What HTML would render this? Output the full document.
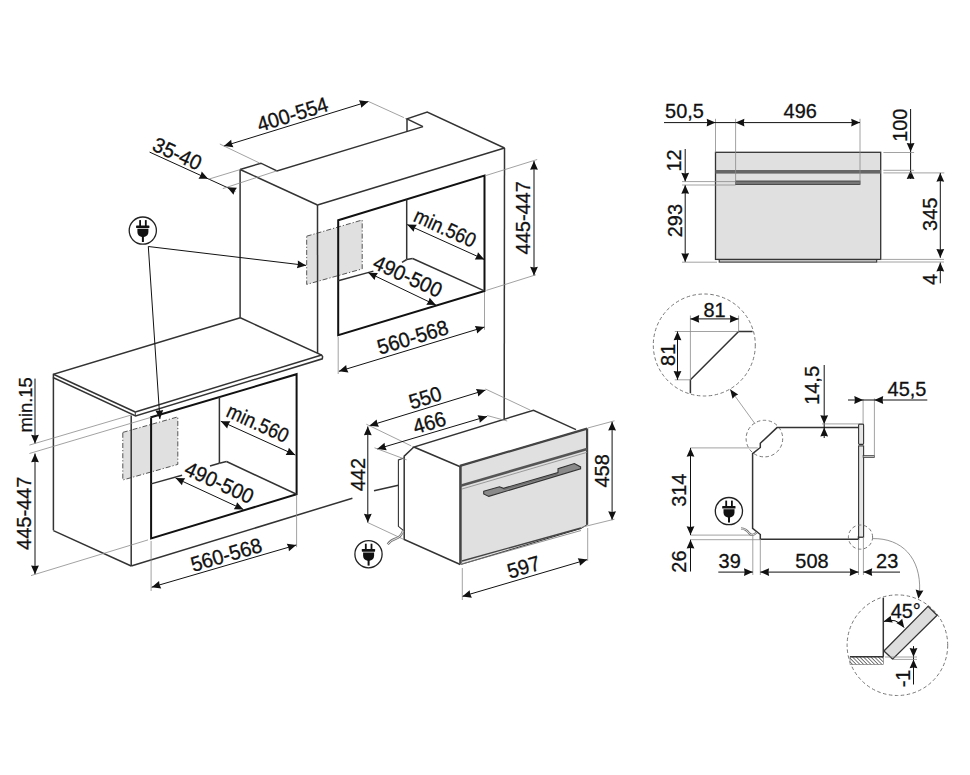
<!DOCTYPE html>
<html><head><meta charset="utf-8"><style>
html,body{margin:0;padding:0;background:#fff;}
svg{display:block;font-family:"Liberation Sans",sans-serif;}
</style></head><body>
<svg width="970" height="775" viewBox="0 0 970 775">
<defs><pattern id="hatch" width="2.6" height="2.6" patternUnits="userSpaceOnUse" patternTransform="rotate(-45)"><rect width="2.6" height="2.6" fill="#fff"/><line x1="0" y1="0" x2="0" y2="2.6" stroke="#333" stroke-width="1.3"/></pattern></defs>
<rect width="970" height="775" fill="#fff"/>
<polygon points="306.7,236.2 362.2,220.0 362.2,268.9 306.7,284.4" stroke="#555" stroke-width="1.0" fill="#e0e0e0" stroke-linejoin="miter" stroke-dasharray="5,2,1.2,2"/>
<line x1="240.1" y1="169.5" x2="240.1" y2="317.8" stroke="#333" stroke-width="1.5" />
<line x1="240.1" y1="169.5" x2="317.5" y2="205.0" stroke="#333" stroke-width="1.5" />
<line x1="317.5" y1="205.0" x2="317.6" y2="353.0" stroke="#333" stroke-width="1.5" />
<line x1="317.5" y1="205.0" x2="504.5" y2="148.0" stroke="#333" stroke-width="1.5" />
<line x1="504.5" y1="148.0" x2="504.2" y2="419.5" stroke="#333" stroke-width="1.5" />
<polyline points="240.1,169.5 260.9,163.2 277.0,171.0 423.0,126.6" stroke="#333" stroke-width="1.5" fill="none" stroke-linejoin="miter" />
<line x1="407.0" y1="118.9" x2="407.0" y2="132.0" stroke="#333" stroke-width="1.5" />
<polyline points="423.0,126.6 407.0,118.9 427.2,112.1 504.5,148.0" stroke="#333" stroke-width="1.5" fill="none" stroke-linejoin="miter" />
<polygon points="338.2,220.2 484.5,175.6 484.5,290.9 338.2,335.1" stroke="#111" stroke-width="2.0" fill="none" stroke-linejoin="miter" />
<line x1="406.7" y1="199.5" x2="406.7" y2="259.3" stroke="#333" stroke-width="1.5" />
<line x1="338.2" y1="280.7" x2="373.4" y2="271.1" stroke="#333" stroke-width="1.5" />
<line x1="402.0" y1="262.4" x2="406.7" y2="259.5" stroke="#333" stroke-width="1.5" />
<line x1="406.7" y1="259.5" x2="412.6" y2="258.5" stroke="#333" stroke-width="1.5" />
<line x1="412.6" y1="258.5" x2="484.4" y2="290.9" stroke="#333" stroke-width="1.5" />
<polyline points="240.3,317.8 53.4,374.2 53.4,377.8 135.6,415.9 322.3,358.8 322.6,356.6 321.6,355.0 240.3,317.8" stroke="#333" stroke-width="1.5" fill="none" stroke-linejoin="miter" />
<line x1="53.4" y1="374.2" x2="135.3" y2="412.0" stroke="#333" stroke-width="1.5" />
<line x1="135.3" y1="412.0" x2="321.6" y2="355.0" stroke="#333" stroke-width="1.5" />
<line x1="135.3" y1="412.0" x2="135.3" y2="415.9" stroke="#333" stroke-width="1.0" />
<polygon points="122.8,432.4 177.8,416.9 177.8,464.4 122.8,480.0" stroke="#555" stroke-width="1.0" fill="#e0e0e0" stroke-linejoin="miter" stroke-dasharray="5,2,1.2,2"/>
<line x1="53.4" y1="377.6" x2="53.4" y2="530.3" stroke="#333" stroke-width="1.5" />
<line x1="53.4" y1="530.6" x2="131.2" y2="566.0" stroke="#333" stroke-width="1.5" />
<line x1="131.2" y1="415.5" x2="131.2" y2="566.0" stroke="#333" stroke-width="1.5" />
<line x1="131.2" y1="566.0" x2="352.4" y2="498.2" stroke="#333" stroke-width="1.5" />
<line x1="374.0" y1="490.7" x2="398.4" y2="485.2" stroke="#333" stroke-width="1.5" />
<polygon points="151.1,417.3 296.6,374.2 296.6,494.3 151.1,538.5" stroke="#111" stroke-width="2.0" fill="none" stroke-linejoin="miter" />
<line x1="219.4" y1="396.8" x2="219.4" y2="463.2" stroke="#333" stroke-width="1.5" />
<line x1="151.1" y1="483.9" x2="182.1" y2="475.3" stroke="#333" stroke-width="1.5" />
<line x1="210.0" y1="466.0" x2="219.4" y2="463.2" stroke="#333" stroke-width="1.5" />
<line x1="219.4" y1="463.2" x2="226.5" y2="461.5" stroke="#333" stroke-width="1.5" />
<line x1="226.5" y1="461.5" x2="296.6" y2="494.3" stroke="#333" stroke-width="1.5" />
<line x1="223.9" y1="146.1" x2="368.5" y2="101.5" stroke="#111" stroke-width="1.0" />
<polygon points="223.90,146.10 231.16,139.78 231.74,143.68 233.46,147.23" fill="#111"/>
<polygon points="368.50,101.50 361.24,107.82 360.66,103.92 358.94,100.37" fill="#111"/>
<line x1="219.8" y1="144.0" x2="259.5" y2="163.0" stroke="#8a8a8a" stroke-width="0.8" />
<line x1="368.5" y1="101.5" x2="403.9" y2="117.6" stroke="#8a8a8a" stroke-width="0.8" />
<text transform="translate(292.5,114.0) rotate(-17.1) scale(0.95,1)" x="0" y="7.52" font-size="21" text-anchor="middle" fill="#111" stroke="#111" stroke-width="0.3">400-554</text>
<line x1="149.6" y1="152.1" x2="235.3" y2="191.2" stroke="#111" stroke-width="1.0" />
<polygon points="208.10,178.80 198.48,178.69 200.64,175.40 201.71,171.60" fill="#111"/>
<polygon points="227.30,187.30 236.92,187.65 234.67,190.89 233.50,194.66" fill="#111"/>
<line x1="208.6" y1="179.2" x2="240.4" y2="169.5" stroke="#8a8a8a" stroke-width="0.8" />
<line x1="222.8" y1="188.6" x2="277.0" y2="170.8" stroke="#8a8a8a" stroke-width="0.8" />
<text transform="translate(177.4,153.5) rotate(24.5) scale(0.95,1)" x="0" y="7.52" font-size="21" text-anchor="middle" fill="#111" stroke="#111" stroke-width="0.3">35-40</text>
<line x1="534.0" y1="161.0" x2="534.0" y2="275.6" stroke="#111" stroke-width="1.0" />
<polygon points="534.00,161.00 537.90,169.80 534.00,169.20 530.10,169.80" fill="#111"/>
<polygon points="534.00,275.60 530.10,266.80 534.00,267.40 537.90,266.80" fill="#111"/>
<line x1="485.0" y1="175.8" x2="537.2" y2="159.5" stroke="#8a8a8a" stroke-width="0.8" />
<line x1="486.3" y1="290.4" x2="535.9" y2="274.8" stroke="#8a8a8a" stroke-width="0.8" />
<text transform="translate(522.0,217.8) rotate(-90.0) scale(0.95,1)" x="0" y="7.52" font-size="21" text-anchor="middle" fill="#111" stroke="#111" stroke-width="0.3">445-447</text>
<line x1="407.2" y1="224.6" x2="484.4" y2="259.5" stroke="#111" stroke-width="1.0" />
<polygon points="407.20,224.60 416.83,224.67 414.67,227.98 413.61,231.78" fill="#111"/>
<polygon points="484.40,259.50 474.77,259.43 476.93,256.12 477.99,252.32" fill="#111"/>
<text transform="translate(445.2,227.8) rotate(24.5) scale(0.9,1)" x="0" y="7.34" font-size="20.5" text-anchor="middle" fill="#111" stroke="#111" stroke-width="0.3">min.560</text>
<line x1="368.3" y1="272.7" x2="435.9" y2="305.1" stroke="#111" stroke-width="1.0" />
<polygon points="368.30,272.70 377.92,272.99 375.69,276.24 374.55,280.02" fill="#111"/>
<polygon points="435.90,305.10 426.28,304.81 428.51,301.56 429.65,297.78" fill="#111"/>
<text transform="translate(407.8,276.0) rotate(24.5) scale(0.95,1)" x="0" y="7.52" font-size="21" text-anchor="middle" fill="#111" stroke="#111" stroke-width="0.3">490-500</text>
<line x1="338.2" y1="337.0" x2="338.2" y2="374.0" stroke="#8a8a8a" stroke-width="0.8" />
<line x1="484.5" y1="292.0" x2="484.5" y2="329.8" stroke="#8a8a8a" stroke-width="0.8" />
<line x1="338.9" y1="371.3" x2="484.4" y2="327.1" stroke="#111" stroke-width="1.0" />
<polygon points="338.90,371.30 346.19,365.01 346.75,368.92 348.45,372.47" fill="#111"/>
<polygon points="484.40,327.10 477.11,333.39 476.55,329.48 474.85,325.93" fill="#111"/>
<text transform="translate(412.6,337.0) rotate(-16.9) scale(0.95,1)" x="0" y="7.52" font-size="21" text-anchor="middle" fill="#111" stroke="#111" stroke-width="0.3">560-568</text>
<line x1="35.0" y1="378.6" x2="35.0" y2="443.6" stroke="#111" stroke-width="1.0" />
<polygon points="35.00,443.60 31.10,434.80 35.00,435.40 38.90,434.80" fill="#111"/>
<line x1="35.0" y1="453.5" x2="35.0" y2="574.2" stroke="#111" stroke-width="1.0" />
<polygon points="35.00,453.50 38.90,462.30 35.00,461.70 31.10,462.30" fill="#111"/>
<polygon points="35.00,574.20 31.10,565.40 35.00,566.00 38.90,565.40" fill="#111"/>
<line x1="29.4" y1="445.1" x2="131.2" y2="415.0" stroke="#8a8a8a" stroke-width="0.8" />
<line x1="29.4" y1="453.5" x2="151.1" y2="417.3" stroke="#8a8a8a" stroke-width="0.8" />
<line x1="31.0" y1="575.6" x2="148.0" y2="539.9" stroke="#8a8a8a" stroke-width="0.8" />
<text transform="translate(25.6,404.8) rotate(-90.0) scale(0.97,1)" x="0" y="6.80" font-size="19" text-anchor="middle" fill="#111" stroke="#111" stroke-width="0.3">min.15</text>
<text transform="translate(23.2,513.3) rotate(-90.0) scale(0.95,1)" x="0" y="7.52" font-size="21" text-anchor="middle" fill="#111" stroke="#111" stroke-width="0.3">445-447</text>
<line x1="220.8" y1="421.2" x2="295.3" y2="455.0" stroke="#111" stroke-width="1.0" />
<polygon points="220.80,421.20 230.43,421.28 228.27,424.59 227.20,428.39" fill="#111"/>
<polygon points="295.30,455.00 285.67,454.92 287.83,451.61 288.90,447.81" fill="#111"/>
<text transform="translate(258.0,423.0) rotate(24.5) scale(0.9,1)" x="0" y="7.34" font-size="20.5" text-anchor="middle" fill="#111" stroke="#111" stroke-width="0.3">min.560</text>
<line x1="175.6" y1="478.1" x2="243.4" y2="509.5" stroke="#111" stroke-width="1.0" />
<polygon points="175.60,478.10 185.22,478.26 183.04,481.55 181.95,485.34" fill="#111"/>
<polygon points="243.40,509.50 233.78,509.34 235.96,506.05 237.05,502.26" fill="#111"/>
<text transform="translate(219.4,482.3) rotate(24.5) scale(0.95,1)" x="0" y="7.52" font-size="21" text-anchor="middle" fill="#111" stroke="#111" stroke-width="0.3">490-500</text>
<line x1="151.1" y1="541.0" x2="151.1" y2="591.0" stroke="#8a8a8a" stroke-width="0.8" />
<line x1="296.6" y1="495.0" x2="296.6" y2="547.2" stroke="#8a8a8a" stroke-width="0.8" />
<line x1="151.7" y1="587.2" x2="296.3" y2="545.0" stroke="#111" stroke-width="1.0" />
<polygon points="151.70,587.20 159.06,580.99 159.57,584.90 161.24,588.48" fill="#111"/>
<polygon points="296.30,545.00 288.94,551.21 288.43,547.30 286.76,543.72" fill="#111"/>
<text transform="translate(226.2,554.5) rotate(-16.2) scale(0.95,1)" x="0" y="7.52" font-size="21" text-anchor="middle" fill="#111" stroke="#111" stroke-width="0.3">560-568</text>
<line x1="148.3" y1="246.5" x2="306.1" y2="265.4" stroke="#111" stroke-width="1.0" />
<polygon points="306.10,265.40 296.90,268.23 297.96,264.42 297.83,260.48" fill="#111"/>
<line x1="148.3" y1="246.5" x2="159.9" y2="419.0" stroke="#111" stroke-width="1.0" />
<polygon points="159.90,419.00 155.42,410.48 159.35,410.82 163.20,409.96" fill="#111"/>
<g transform="translate(142.8,230.6) scale(1.0)"><circle cx="0" cy="0" r="13.6" stroke="#222" stroke-width="1.3" fill="#fff"/><rect x="-3.6" y="-10.5" width="1.8" height="6" fill="#111"/><rect x="2.1" y="-10.5" width="1.8" height="6" fill="#111"/><rect x="-6.7" y="-5.2" width="13.3" height="2.7" rx="0.6" fill="#111"/><path d="M-5.4,-1.8 L5.6,-1.8 L5.6,1.5 Q5.6,5.6 1.2,6.5 L-1.0,6.5 Q-5.4,5.6 -5.4,1.5 Z" fill="#111"/><rect x="-0.9" y="5" width="2" height="6.4" fill="#111"/></g>
<polyline points="413.9,447.0 404.2,456.1 404.2,539.4 460.3,564.5" stroke="#333" stroke-width="1.5" fill="none" stroke-linejoin="miter" />
<polyline points="404.2,458.0 398.4,460.0 398.4,526.3 404.2,531.2" stroke="#333" stroke-width="1.1" fill="none" stroke-linejoin="miter" />
<polyline points="460.3,466.8 413.9,447.0 533.5,410.2 576.0,429.6" stroke="#333" stroke-width="1.5" fill="none" stroke-linejoin="miter" />
<polygon points="459.9,465.9 587.1,428.6 587.1,524.7 581.0,528.5 461.4,564.3 459.9,563.5" stroke="#333" stroke-width="1.0" fill="#e0e0e0" stroke-linejoin="miter" />
<line x1="459.9" y1="465.9" x2="587.1" y2="428.6" stroke="#444" stroke-width="2.2" />
<line x1="460.6" y1="466.0" x2="460.6" y2="563.5" stroke="#444" stroke-width="2.2" />
<line x1="587.1" y1="428.6" x2="587.1" y2="524.7" stroke="#444" stroke-width="2.2" />
<line x1="460.6" y1="485.7" x2="587.1" y2="449.0" stroke="#555" stroke-width="2.6" />
<line x1="462.0" y1="489.0" x2="587.1" y2="452.3" stroke="#888" stroke-width="0.8" />
<line x1="462.0" y1="561.0" x2="581.0" y2="528.0" stroke="#444" stroke-width="1.3" />
<line x1="462.0" y1="564.0" x2="581.0" y2="530.5" stroke="#777" stroke-width="0.8" />
<polygon points="483.7,491.3 499.5,486.8 503.5,488.3 558.0,472.5 558.0,468.6 574.4,463.5 580.6,466.9 580.6,468.8 488.8,496.4 483.7,494.0" stroke="#333" stroke-width="1.1" fill="#8a8a8a" stroke-linejoin="miter" />
<line x1="503.5" y1="489.6" x2="558.0" y2="473.8" stroke="#555" stroke-width="0.6" />
<line x1="369.4" y1="425.7" x2="485.5" y2="390.1" stroke="#111" stroke-width="1.0" />
<polygon points="369.40,425.70 376.67,419.39 377.24,423.30 378.96,426.85" fill="#111"/>
<polygon points="485.50,390.10 478.23,396.41 477.66,392.50 475.94,388.95" fill="#111"/>
<line x1="485.5" y1="389.0" x2="530.4" y2="410.2" stroke="#8a8a8a" stroke-width="0.8" />
<line x1="366.3" y1="424.2" x2="411.2" y2="445.9" stroke="#8a8a8a" stroke-width="0.8" />
<text transform="translate(425.1,397.4) rotate(-17.0) scale(0.95,1)" x="0" y="7.52" font-size="21" text-anchor="middle" fill="#111" stroke="#111" stroke-width="0.3">550</text>
<line x1="377.2" y1="449.0" x2="487.1" y2="416.4" stroke="#111" stroke-width="1.0" />
<polygon points="377.20,449.00 384.53,442.76 385.06,446.67 386.75,450.24" fill="#111"/>
<polygon points="487.10,416.40 479.77,422.64 479.24,418.73 477.55,415.16" fill="#111"/>
<line x1="487.1" y1="415.5" x2="507.2" y2="421.0" stroke="#8a8a8a" stroke-width="0.8" />
<line x1="374.5" y1="447.8" x2="406.6" y2="459.8" stroke="#8a8a8a" stroke-width="0.8" />
<text transform="translate(429.4,422.4) rotate(-16.5) scale(0.95,1)" x="0" y="7.52" font-size="21" text-anchor="middle" fill="#111" stroke="#111" stroke-width="0.3">466</text>
<line x1="367.8" y1="426.5" x2="367.8" y2="522.6" stroke="#111" stroke-width="1.0" />
<polygon points="367.80,426.50 371.70,435.30 367.80,434.70 363.90,435.30" fill="#111"/>
<polygon points="367.80,522.60 363.90,513.80 367.80,514.40 371.70,513.80" fill="#111"/>
<line x1="367.8" y1="522.6" x2="403.5" y2="539.3" stroke="#8a8a8a" stroke-width="0.8" />
<text transform="translate(357.0,474.6) rotate(-90.0) scale(0.95,1)" x="0" y="7.52" font-size="21" text-anchor="middle" fill="#111" stroke="#111" stroke-width="0.3">442</text>
<line x1="612.1" y1="421.7" x2="612.1" y2="520.1" stroke="#111" stroke-width="1.0" />
<polygon points="612.10,421.70 616.00,430.50 612.10,429.90 608.20,430.50" fill="#111"/>
<polygon points="612.10,520.10 608.20,511.30 612.10,511.90 616.00,511.30" fill="#111"/>
<line x1="587.7" y1="428.0" x2="614.5" y2="420.8" stroke="#8a8a8a" stroke-width="0.8" />
<line x1="581.4" y1="527.3" x2="614.5" y2="519.2" stroke="#8a8a8a" stroke-width="0.8" />
<text transform="translate(601.2,470.9) rotate(-90.0) scale(0.95,1)" x="0" y="7.52" font-size="21" text-anchor="middle" fill="#111" stroke="#111" stroke-width="0.3">458</text>
<line x1="462.3" y1="596.4" x2="587.3" y2="559.6" stroke="#111" stroke-width="1.0" />
<polygon points="462.30,596.40 469.64,590.17 470.17,594.08 471.84,597.66" fill="#111"/>
<polygon points="587.30,559.60 579.96,565.83 579.43,561.92 577.76,558.34" fill="#111"/>
<line x1="462.3" y1="568.0" x2="462.3" y2="600.0" stroke="#8a8a8a" stroke-width="0.8" />
<line x1="587.7" y1="528.0" x2="587.7" y2="561.0" stroke="#8a8a8a" stroke-width="0.8" />
<text transform="translate(523.5,566.8) rotate(-16.4) scale(0.95,1)" x="0" y="7.52" font-size="21" text-anchor="middle" fill="#111" stroke="#111" stroke-width="0.3">597</text>
<g transform="translate(368.5,554.2) scale(1.0)"><circle cx="0" cy="0" r="13.6" stroke="#222" stroke-width="1.3" fill="#fff"/><rect x="-3.6" y="-10.5" width="1.8" height="6" fill="#111"/><rect x="2.1" y="-10.5" width="1.8" height="6" fill="#111"/><rect x="-6.7" y="-5.2" width="13.3" height="2.7" rx="0.6" fill="#111"/><path d="M-5.4,-1.8 L5.6,-1.8 L5.6,1.5 Q5.6,5.6 1.2,6.5 L-1.0,6.5 Q-5.4,5.6 -5.4,1.5 Z" fill="#111"/><rect x="-0.9" y="5" width="2" height="6.4" fill="#111"/></g>
<path d="M387.7,544.2 Q391,540 396,538.5 Q401,537 403.2,530.6" stroke="#777" stroke-width="2.4" fill="none"/>
<path d="M387.7,544.2 Q391,540 396,538.5 Q401,537 403.2,530.6" stroke="#fff" stroke-width="0.8" fill="none"/>
<rect x="715.5" y="152.3" width="165.2" height="107.1" fill="#e0e0e0" stroke="#333" stroke-width="1.3"/>
<rect x="715.5" y="170.0" width="165.2" height="3.6" fill="#666"/>
<rect x="735.6" y="181.0" width="124.4" height="3.4" fill="#777" stroke="#333" stroke-width="0.8"/>
<rect x="719.2" y="259.6" width="157.5" height="2.5" fill="#d8d8d8" stroke="#333" stroke-width="1.1"/>
<line x1="715.5" y1="118.8" x2="715.5" y2="152.3" stroke="#8a8a8a" stroke-width="0.8" />
<line x1="735.6" y1="118.8" x2="735.6" y2="184.4" stroke="#8a8a8a" stroke-width="0.8" />
<line x1="860.0" y1="118.8" x2="860.0" y2="184.4" stroke="#8a8a8a" stroke-width="0.8" />
<line x1="664.0" y1="122.6" x2="735.6" y2="122.6" stroke="#111" stroke-width="1.0" />
<polygon points="715.50,122.60 706.70,126.50 707.30,122.60 706.70,118.70" fill="#111"/>
<line x1="735.6" y1="122.6" x2="860.0" y2="122.6" stroke="#111" stroke-width="1.0" />
<polygon points="735.60,122.60 744.40,118.70 743.80,122.60 744.40,126.50" fill="#111"/>
<polygon points="860.00,122.60 851.20,126.50 851.80,122.60 851.20,118.70" fill="#111"/>
<text transform="translate(684.5,110.6) rotate(0.0) scale(0.95,1)" x="0" y="7.52" font-size="21" text-anchor="middle" fill="#111" stroke="#111" stroke-width="0.3">50,5</text>
<text transform="translate(800.2,110.5) rotate(0.0) scale(0.95,1)" x="0" y="7.52" font-size="21" text-anchor="middle" fill="#111" stroke="#111" stroke-width="0.3">496</text>
<line x1="685.2" y1="149.0" x2="685.2" y2="181.6" stroke="#111" stroke-width="1.0" />
<polygon points="685.20,181.60 681.30,172.80 685.20,173.40 689.10,172.80" fill="#111"/>
<line x1="685.2" y1="185.0" x2="685.2" y2="262.0" stroke="#111" stroke-width="1.0" />
<polygon points="685.20,185.00 689.10,193.80 685.20,193.20 681.30,193.80" fill="#111"/>
<polygon points="685.20,262.00 681.30,253.20 685.20,253.80 689.10,253.20" fill="#111"/>
<line x1="682.0" y1="181.6" x2="735.6" y2="181.6" stroke="#8a8a8a" stroke-width="0.8" />
<line x1="682.0" y1="185.0" x2="735.6" y2="185.0" stroke="#8a8a8a" stroke-width="0.8" />
<line x1="682.0" y1="262.2" x2="717.0" y2="262.2" stroke="#8a8a8a" stroke-width="0.8" />
<text transform="translate(673.6,160.4) rotate(-90.0) scale(0.95,1)" x="0" y="7.52" font-size="21" text-anchor="middle" fill="#111" stroke="#111" stroke-width="0.3">12</text>
<text transform="translate(674.4,220.6) rotate(-90.0) scale(0.95,1)" x="0" y="7.52" font-size="21" text-anchor="middle" fill="#111" stroke="#111" stroke-width="0.3">293</text>
<line x1="910.6" y1="109.0" x2="910.6" y2="179.0" stroke="#111" stroke-width="1.0" />
<polygon points="910.60,151.70 906.70,142.90 910.60,143.50 914.50,142.90" fill="#111"/>
<polygon points="910.60,170.30 914.50,179.10 910.60,178.50 906.70,179.10" fill="#111"/>
<line x1="883.4" y1="152.5" x2="914.1" y2="152.5" stroke="#8a8a8a" stroke-width="0.8" />
<line x1="883.4" y1="170.3" x2="914.1" y2="170.3" stroke="#8a8a8a" stroke-width="0.8" />
<line x1="883.4" y1="172.9" x2="944.3" y2="172.9" stroke="#8a8a8a" stroke-width="0.8" />
<line x1="940.3" y1="172.9" x2="940.3" y2="257.8" stroke="#111" stroke-width="1.0" />
<polygon points="940.30,172.90 944.20,181.70 940.30,181.10 936.40,181.70" fill="#111"/>
<polygon points="940.30,257.80 936.40,249.00 940.30,249.60 944.20,249.00" fill="#111"/>
<line x1="880.7" y1="259.4" x2="944.0" y2="259.4" stroke="#8a8a8a" stroke-width="0.8" />
<line x1="877.0" y1="262.0" x2="944.0" y2="262.0" stroke="#8a8a8a" stroke-width="0.8" />
<line x1="940.3" y1="262.6" x2="940.3" y2="283.3" stroke="#111" stroke-width="1.0" />
<polygon points="940.30,262.60 944.20,271.40 940.30,270.80 936.40,271.40" fill="#111"/>
<text transform="translate(899.8,125.2) rotate(-90.0) scale(0.95,1)" x="0" y="7.52" font-size="21" text-anchor="middle" fill="#111" stroke="#111" stroke-width="0.3">100</text>
<text transform="translate(929.4,214.3) rotate(-90.0) scale(0.95,1)" x="0" y="7.52" font-size="21" text-anchor="middle" fill="#111" stroke="#111" stroke-width="0.3">345</text>
<text transform="translate(929.4,279.5) rotate(-90.0) scale(0.95,1)" x="0" y="7.52" font-size="21" text-anchor="middle" fill="#111" stroke="#111" stroke-width="0.3">4</text>
<circle cx="704.3" cy="345.0" r="51.0" stroke="#777" stroke-width="1.0" fill="none" stroke-dasharray="3.5,2.5"/>
<polyline points="752.6,331.5 738.6,331.5 690.4,379.8 690.4,393.2" stroke="#333" stroke-width="1.5" fill="none" stroke-linejoin="miter" />
<line x1="690.4" y1="315.5" x2="690.4" y2="379.8" stroke="#8a8a8a" stroke-width="0.8" />
<line x1="738.6" y1="315.5" x2="738.6" y2="331.5" stroke="#8a8a8a" stroke-width="0.8" />
<line x1="690.4" y1="318.9" x2="738.6" y2="318.9" stroke="#111" stroke-width="1.0" />
<polygon points="690.40,318.90 699.20,315.00 698.60,318.90 699.20,322.80" fill="#111"/>
<polygon points="738.60,318.90 729.80,322.80 730.40,318.90 729.80,315.00" fill="#111"/>
<text transform="translate(714.6,309.2) rotate(0.0) scale(0.95,1)" x="0" y="7.52" font-size="21" text-anchor="middle" fill="#111" stroke="#111" stroke-width="0.3">81</text>
<line x1="674.8" y1="331.5" x2="738.6" y2="331.5" stroke="#8a8a8a" stroke-width="0.8" />
<line x1="674.8" y1="379.8" x2="690.4" y2="379.8" stroke="#8a8a8a" stroke-width="0.8" />
<line x1="677.5" y1="331.5" x2="677.5" y2="379.8" stroke="#111" stroke-width="1.0" />
<polygon points="677.50,331.50 681.40,340.30 677.50,339.70 673.60,340.30" fill="#111"/>
<polygon points="677.50,379.80 673.60,371.00 677.50,371.60 681.40,371.00" fill="#111"/>
<text transform="translate(667.2,354.8) rotate(-90.0) scale(0.95,1)" x="0" y="7.52" font-size="21" text-anchor="middle" fill="#111" stroke="#111" stroke-width="0.3">81</text>
<line x1="755.2" y1="424.0" x2="730.1" y2="389.3" stroke="#8a8a8a" stroke-width="0.8" />
<polygon points="730.10,389.30 738.21,394.54 735.02,396.11 732.54,398.64" fill="#111"/>
<circle cx="764.4" cy="438.6" r="18.3" stroke="#777" stroke-width="1.0" fill="none" stroke-dasharray="3.5,2.5"/>
<polyline points="858.5,427.6 777.0,427.6 760.3,443.3 760.3,447.5 752.6,453.7 752.6,528.3 760.3,534.5 760.3,539.3 858.5,539.3 858.5,537.1 863.4,537.1" stroke="#333" stroke-width="1.5" fill="none" stroke-linejoin="miter" />
<rect x="858.6" y="424.1" width="5.0" height="20.3" rx="0.8" fill="#e6e6e6" stroke="#333" stroke-width="1.1"/>
<rect x="858.6" y="445.9" width="5.0" height="91.2" fill="#e6e6e6" stroke="#333" stroke-width="1.1"/>
<rect x="863.1" y="455.6" width="11.3" height="2" fill="#bbb" stroke="#333" stroke-width="0.7"/>
<line x1="874.4" y1="398.4" x2="874.4" y2="456.6" stroke="#8a8a8a" stroke-width="0.8" />
<line x1="863.1" y1="399.0" x2="863.1" y2="424.0" stroke="#8a8a8a" stroke-width="0.8" />
<line x1="848.0" y1="400.0" x2="927.3" y2="400.0" stroke="#111" stroke-width="1.0" />
<polygon points="863.10,400.00 854.30,403.90 854.90,400.00 854.30,396.10" fill="#111"/>
<polygon points="874.40,400.00 883.20,396.10 882.60,400.00 883.20,403.90" fill="#111"/>
<text transform="translate(907.0,388.6) rotate(0.0) scale(0.95,1)" x="0" y="7.52" font-size="21" text-anchor="middle" fill="#111" stroke="#111" stroke-width="0.3">45,5</text>
<line x1="824.2" y1="365.0" x2="824.2" y2="424.0" stroke="#111" stroke-width="1.0" />
<polygon points="824.20,424.00 820.30,415.20 824.20,415.80 828.10,415.20" fill="#111"/>
<line x1="824.2" y1="424.0" x2="824.2" y2="438.0" stroke="#111" stroke-width="1.0" />
<polygon points="824.20,427.60 828.10,436.40 824.20,435.80 820.30,436.40" fill="#111"/>
<line x1="822.0" y1="423.9" x2="858.8" y2="423.9" stroke="#8a8a8a" stroke-width="0.8" />
<text transform="translate(811.8,385.4) rotate(-90.0) scale(0.95,1)" x="0" y="7.52" font-size="21" text-anchor="middle" fill="#111" stroke="#111" stroke-width="0.3">14,5</text>
<line x1="690.5" y1="447.9" x2="757.8" y2="447.9" stroke="#8a8a8a" stroke-width="0.8" />
<line x1="690.5" y1="535.1" x2="752.6" y2="535.1" stroke="#8a8a8a" stroke-width="0.8" />
<line x1="690.5" y1="539.7" x2="760.3" y2="539.7" stroke="#8a8a8a" stroke-width="0.8" />
<line x1="690.5" y1="447.9" x2="690.5" y2="535.1" stroke="#111" stroke-width="1.0" />
<polygon points="690.50,447.90 694.40,456.70 690.50,456.10 686.60,456.70" fill="#111"/>
<polygon points="690.50,535.10 686.60,526.30 690.50,526.90 694.40,526.30" fill="#111"/>
<line x1="690.5" y1="539.7" x2="690.5" y2="571.5" stroke="#111" stroke-width="1.0" />
<polygon points="690.50,539.70 694.40,548.50 690.50,547.90 686.60,548.50" fill="#111"/>
<text transform="translate(678.6,490.2) rotate(-90.0) scale(0.95,1)" x="0" y="7.52" font-size="21" text-anchor="middle" fill="#111" stroke="#111" stroke-width="0.3">314</text>
<text transform="translate(678.6,561.6) rotate(-90.0) scale(0.95,1)" x="0" y="7.52" font-size="21" text-anchor="middle" fill="#111" stroke="#111" stroke-width="0.3">26</text>
<g transform="translate(728.9,511.1) scale(1.0)"><circle cx="0" cy="0" r="13.6" stroke="#222" stroke-width="1.3" fill="#fff"/><rect x="-3.6" y="-10.5" width="1.8" height="6" fill="#111"/><rect x="2.1" y="-10.5" width="1.8" height="6" fill="#111"/><rect x="-6.7" y="-5.2" width="13.3" height="2.7" rx="0.6" fill="#111"/><path d="M-5.4,-1.8 L5.6,-1.8 L5.6,1.5 Q5.6,5.6 1.2,6.5 L-1.0,6.5 Q-5.4,5.6 -5.4,1.5 Z" fill="#111"/><rect x="-0.9" y="5" width="2" height="6.4" fill="#111"/></g>
<path d="M741,528.3 Q746,528.5 749,533 Q752,537 756.5,532.5" stroke="#777" stroke-width="2.2" fill="none"/>
<path d="M741,528.3 Q746,528.5 749,533 Q752,537 756.5,532.5" stroke="#fff" stroke-width="0.7" fill="none"/>
<line x1="752.8" y1="535.0" x2="752.8" y2="575.0" stroke="#8a8a8a" stroke-width="0.8" />
<line x1="760.3" y1="539.0" x2="760.3" y2="575.0" stroke="#8a8a8a" stroke-width="0.8" />
<line x1="858.5" y1="539.0" x2="858.5" y2="575.0" stroke="#8a8a8a" stroke-width="0.8" />
<line x1="863.4" y1="537.0" x2="863.4" y2="575.0" stroke="#8a8a8a" stroke-width="0.8" />
<line x1="718.3" y1="572.1" x2="752.8" y2="572.1" stroke="#111" stroke-width="1.0" />
<polygon points="752.80,572.10 744.00,576.00 744.60,572.10 744.00,568.20" fill="#111"/>
<line x1="760.3" y1="572.1" x2="858.5" y2="572.1" stroke="#111" stroke-width="1.0" />
<polygon points="760.30,572.10 769.10,568.20 768.50,572.10 769.10,576.00" fill="#111"/>
<polygon points="858.50,572.10 849.70,576.00 850.30,572.10 849.70,568.20" fill="#111"/>
<line x1="863.4" y1="572.1" x2="900.0" y2="572.1" stroke="#111" stroke-width="1.0" />
<polygon points="863.40,572.10 872.20,568.20 871.60,572.10 872.20,576.00" fill="#111"/>
<text transform="translate(729.7,560.5) rotate(0.0) scale(0.95,1)" x="0" y="7.52" font-size="21" text-anchor="middle" fill="#111" stroke="#111" stroke-width="0.3">39</text>
<text transform="translate(812.0,560.5) rotate(0.0) scale(0.95,1)" x="0" y="7.52" font-size="21" text-anchor="middle" fill="#111" stroke="#111" stroke-width="0.3">508</text>
<text transform="translate(887.2,560.5) rotate(0.0) scale(0.95,1)" x="0" y="7.52" font-size="21" text-anchor="middle" fill="#111" stroke="#111" stroke-width="0.3">23</text>
<circle cx="860.5" cy="537.1" r="12.1" stroke="#777" stroke-width="1.0" fill="none" stroke-dasharray="3.5,2.5"/>
<path d="M872.5,538.6 C902,538 921,558 919.6,591" stroke="#8a8a8a" stroke-width="0.9" fill="none"/>
<polygon points="918.40,598.80 915.66,589.57 919.45,590.67 923.40,590.57" fill="#111"/>
<circle cx="897.4" cy="645.2" r="50.3" stroke="#777" stroke-width="1.0" fill="none" stroke-dasharray="3.5,2.5"/>
<rect x="850" y="656.8" width="33.3" height="7.7" fill="url(#hatch)" stroke="#666" stroke-width="0.6"/>
<line x1="850.0" y1="656.8" x2="883.3" y2="656.8" stroke="#333" stroke-width="1.5" />
<line x1="883.3" y1="597.7" x2="883.3" y2="656.8" stroke="#333" stroke-width="1.5" />
<polygon points="883.9,651.0 892.6,659.1 937.1,615.2 928.0,606.4" stroke="#333" stroke-width="1.3" fill="#ddd" stroke-linejoin="miter" />
<path d="M884,621.5 Q896,617 904,627.5" stroke="#111" stroke-width="1" fill="none"/>
<polygon points="883.60,621.60 890.72,615.72 891.17,619.34 892.77,622.62" fill="#111"/>
<polygon points="904.20,627.80 896.34,622.97 899.62,621.37 902.20,618.79" fill="#111"/>
<text transform="translate(905.7,610.5) rotate(0.0) scale(0.95,1)" x="0" y="7.52" font-size="21" text-anchor="middle" fill="#111" stroke="#111" stroke-width="0.3">45°</text>
<line x1="913.5" y1="646.1" x2="913.5" y2="684.5" stroke="#111" stroke-width="1.0" />
<polygon points="913.50,656.90 909.60,648.10 913.50,648.70 917.40,648.10" fill="#111"/>
<polygon points="913.50,659.40 917.40,668.20 913.50,667.60 909.60,668.20" fill="#111"/>
<line x1="885.0" y1="657.0" x2="917.0" y2="657.0" stroke="#8a8a8a" stroke-width="0.8" />
<line x1="892.0" y1="659.4" x2="917.0" y2="659.4" stroke="#8a8a8a" stroke-width="0.8" />
<text transform="translate(902.1,678.5) rotate(-90.0) scale(0.95,1)" x="0" y="7.52" font-size="21" text-anchor="middle" fill="#111" stroke="#111" stroke-width="0.3">-1</text>
</svg></body></html>
